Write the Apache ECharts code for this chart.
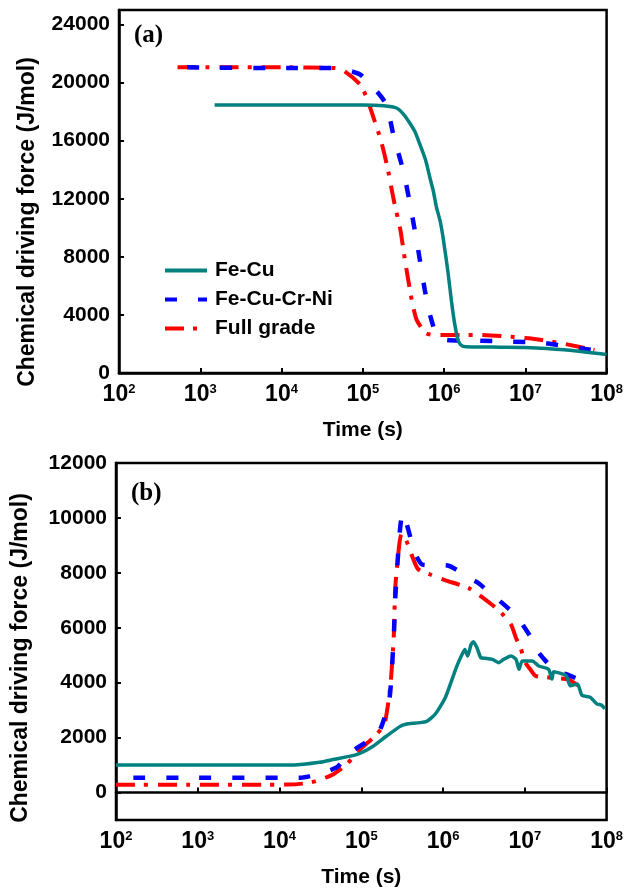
<!DOCTYPE html>
<html>
<head>
<meta charset="utf-8">
<script src="https://cdn.jsdelivr.net/npm/echarts@6/dist/echarts.min.js"></script>
<style>
html, body { margin: 0; padding: 0; background: #fff; }
#chart { width: 626px; height: 889px; }
</style>
</head>
<body>
<div id="chart"></div>
<script>
// series names
var names = ['Fe-Cu', 'Fe-Cu-Cr-Ni', 'Full grade'];
var yName = 'Chemical driving force (J/mol)';

// tick values
var timeTicks = [1e2, 1e3, 1e4, 1e5, 1e6, 1e7, 1e8];
var forceTicksA = [0, 4000, 8000, 12000, 16000, 20000, 24000];
var forceTicksB = [0, 2000, 4000, 6000, 8000, 10000, 12000];

// (a) [time s, J/mol]
var aFeCu = [
    [1.5e3, 18450], [1e4, 18450], [1e5, 18450], [1.8e5, 18400], [2.6e5, 18250],
    [3.2e5, 17800], [3.8e5, 17200], [4.4e5, 16600], [5.0e5, 15800], [5.9e5, 14700],
    [6.8e5, 13300], [7.4e5, 12500], [8.0e5, 11500], [9.0e5, 10400], [9.8e5, 9200],
    [1.12e6, 6900], [1.23e6, 5000], [1.35e6, 3400], [1.48e6, 2300], [1.6e6, 1950],
    [1.86e6, 1800], [5e6, 1780], [1e7, 1760], [3e7, 1600], [1e8, 1280]
];
var aFeCuCrNi = [
    [690, 21050], [1e4, 21000], [4.3e4, 21000], [9.3e4, 20550], [1.9e5, 18600],
    [2.4e5, 16300], [3.2e5, 13770], [4.0e5, 11000], [4.8e5, 8500], [5.8e5, 5700],
    [6.8e5, 3900], [8.1e5, 2620], [1.07e6, 2280], [2.5e6, 2230], [6.3e6, 2160],
    [1.6e7, 2090], [4.1e7, 1750], [6.5e7, 1590]
];
var aFull = [
    [525, 21050], [1e4, 21050], [4.5e4, 21000], [5.9e4, 20800], [9.3e4, 19860],
    [1.12e5, 18940], [1.38e5, 17450], [1.66e5, 16070], [2.0e5, 14230], [2.4e5, 11930],
    [2.9e5, 9860], [3.3e5, 7790], [4.0e5, 5030], [4.6e5, 3660], [6.0e5, 2740],
    [8.1e5, 2620], [2.7e6, 2620], [1.1e7, 2390], [2.8e7, 2040], [7.1e7, 1590]
];

// (b) [time s, J/mol]
var bFeCu = [
    [1e2, 1000], [1.3e4, 1000], [1.8e4, 1020], [3.1e4, 1100], [4.5e4, 1200],
    [8.7e4, 1380], [1.38e5, 1680], [2.0e5, 2040], [2.95e5, 2400], [3.5e5, 2490],
    [6.2e5, 2580], [8.1e5, 2870], [1.07e6, 3470], [1.45e6, 4550], [1.6e6, 4850],
    [1.75e6, 5090], [1.85e6, 5210], [2.0e6, 4970], [2.2e6, 5390], [2.35e6, 5490],
    [2.6e6, 5270], [2.9e6, 4910], [3.3e6, 4890], [4.0e6, 4850], [4.8e6, 4730],
    [5.5e6, 4850], [6.8e6, 4970], [7.8e6, 4850], [8.5e6, 4490], [9.3e6, 4790],
    [1.23e7, 4790], [1.48e7, 4610], [1.95e7, 4490], [2.15e7, 4130], [2.25e7, 4400],
    [3.2e7, 4250], [3.6e7, 3890], [4.4e7, 3950], [5.0e7, 3540], [6.3e7, 3470],
    [7.6e7, 3230], [8.7e7, 3180], [9.5e7, 3050]
];
var bFeCuCrNi = [
    [163, 540], [1e3, 540], [1e4, 540], [1.8e4, 540], [4.9e4, 900],
    [7.2e4, 1440], [1.26e5, 1920], [1.66e5, 2220], [2.2e5, 3360], [2.5e5, 5750],
    [2.6e5, 7070], [2.95e5, 9460], [3.2e5, 10180], [4.5e5, 8750], [5.6e5, 8300],
    [1.17e6, 8260], [2.0e6, 7850], [2.75e6, 7610], [4.0e6, 7190], [4.8e6, 7010],
    [8.1e6, 6390], [1.35e7, 5380], [1.48e7, 5090], [2.4e7, 4410], [3.2e7, 4310],
    [5.0e7, 4070], [6.6e7, 3900]
];
var bFull = [
    [100, 280], [1e3, 280], [1.3e4, 290], [1.9e4, 325], [2.8e4, 420],
    [4.5e4, 660], [6.6e4, 1020], [9.1e4, 1500], [1.38e5, 1980], [1.9e5, 2460],
    [2.1e5, 3120], [2.3e5, 4070], [2.5e5, 5750], [2.6e5, 7430], [2.9e5, 8980],
    [3.1e5, 9400], [3.5e5, 9220], [4.9e5, 8150], [7.1e5, 7930], [1.07e6, 7730],
    [2.1e6, 7430], [4.0e6, 6830], [5.2e6, 6530], [6.8e6, 6110], [7.8e6, 5630],
    [8.9e6, 5250], [1.02e7, 4730], [1.17e7, 4480], [1.35e7, 4250], [1.95e7, 4190],
    [3.4e7, 4120], [4.2e7, 3950], [5.5e7, 3770]
];

var font = 'Liberation Sans, Arial, sans-serif';
var colors = ['#00807e', '#0000ff', '#ff0000'];
var lineTypes = ['solid', [12, 21], [19, 9, 4, 10]];
var lineWidths = [3.5, 4.5, 4];

function powLabel(v) {
    return '{b|10}{sup|' + Math.round(Math.log(v) / Math.LN10) + '}';
}

function xAxisFor(idx) {
    return {
        type: 'log',
        logBase: 10,
        gridIndex: idx,
        min: 1e2,
        max: 1e8,
        splitNumber: 6,
        name: 'Time (s)',
        nameLocation: 'middle',
        nameGap: 47,
        nameTextStyle: { fontFamily: font, fontWeight: 'bold', fontSize: 21, color: '#000' },
        axisLine: { lineStyle: { color: '#000', width: 2.5 } },
        axisTick: { inside: true, length: 5, customValues: timeTicks, lineStyle: { color: '#000', width: 2 } },
        minorTick: { show: false },
        splitLine: { show: false },
        axisLabel: {
            customValues: timeTicks,
            margin: 10,
            formatter: powLabel,
            rich: {
                b: { fontFamily: font, fontWeight: 'bold', fontSize: 23, color: '#000', lineHeight: 24 },
                sup: { fontFamily: font, fontWeight: 'bold', fontSize: 13, color: '#000', verticalAlign: 'top', lineHeight: 14 }
            }
        }
    };
}

function yAxisFor(idx, min, max, ticks) {
    return {
        type: 'value',
        gridIndex: idx,
        min: min,
        max: max,
        axisLine: { lineStyle: { color: '#000', width: 2.5 } },
        axisTick: { inside: true, length: 5, customValues: ticks, lineStyle: { color: '#000', width: 2 } },
        splitLine: { show: false },
        axisLabel: {
            customValues: ticks,
            margin: 9,
            formatter: function (v) { return String(v); },
            fontFamily: font, fontWeight: 'bold', fontSize: 21, color: '#000'
        }
    };
}

function yNameText(cx, cy) {
    return {
        type: 'text',
        x: cx,
        y: cy,
        rotation: Math.PI / 2,
        style: {
            text: yName,
            fill: '#000',
            font: 'bold 23px Liberation Sans, Arial, sans-serif',
            align: 'center',
            verticalAlign: 'middle'
        }
    };
}

function seriesFor(i, data, idx) {
    return {
        name: names[i],
        type: 'line',
        xAxisIndex: idx,
        yAxisIndex: idx,
        data: data,
        symbol: 'none',
        smooth: 0.2,
        color: colors[i],
        lineStyle: { color: colors[i], width: lineWidths[i], type: lineTypes[i] },
        z: 3 - i
    };
}

var chart = echarts.init(document.getElementById('chart'));
var option = {
    animation: false,
    backgroundColor: '#fff',
    title: [{
        text: '(a)', left: 134, top: 23, padding: 0,
        textStyle: { fontFamily: 'Liberation Serif, Times New Roman, serif', fontWeight: 'bold', fontSize: 25, color: '#000' }
    }, {
        text: '(b)', left: 131, top: 481, padding: 0,
        textStyle: { fontFamily: 'Liberation Serif, Times New Roman, serif', fontWeight: 'bold', fontSize: 25, color: '#000' }
    }],
    graphic: [yNameText(28, 222), yNameText(21, 658)],
    legend: {
        orient: 'vertical',
        left: 163,
        top: 260,
        padding: 0,
        itemWidth: 42,
        itemHeight: 14,
        itemGap: 8,
        data: names,
        itemStyle: { opacity: 0 },
        lineStyle: { width: 4 },
        textStyle: { fontFamily: font, fontWeight: 'bold', fontSize: 21, color: '#000', lineHeight: 21, padding: [0, 0, 0, 3] }
    },
    grid: [
        { left: 119, top: 10, width: 493, height: 363, show: true, borderColor: '#000', borderWidth: 2.5, containLabel: false },
        { left: 116, top: 463, width: 492, height: 362, show: true, borderColor: '#000', borderWidth: 2.5, containLabel: false }
    ],
    xAxis: [xAxisFor(0), xAxisFor(1)],
    yAxis: [
        yAxisFor(0, 0, 25000, forceTicksA),
        yAxisFor(1, -1000, 12000, forceTicksB)
    ],
    series: [
        seriesFor(0, aFeCu, 0),
        seriesFor(1, aFeCuCrNi, 0),
        seriesFor(2, aFull, 0),
        seriesFor(0, bFeCu, 1),
        seriesFor(1, bFeCuCrNi, 1),
        seriesFor(2, bFull, 1)
    ]
};
chart.setOption(option);
</script>
</body>
</html>
